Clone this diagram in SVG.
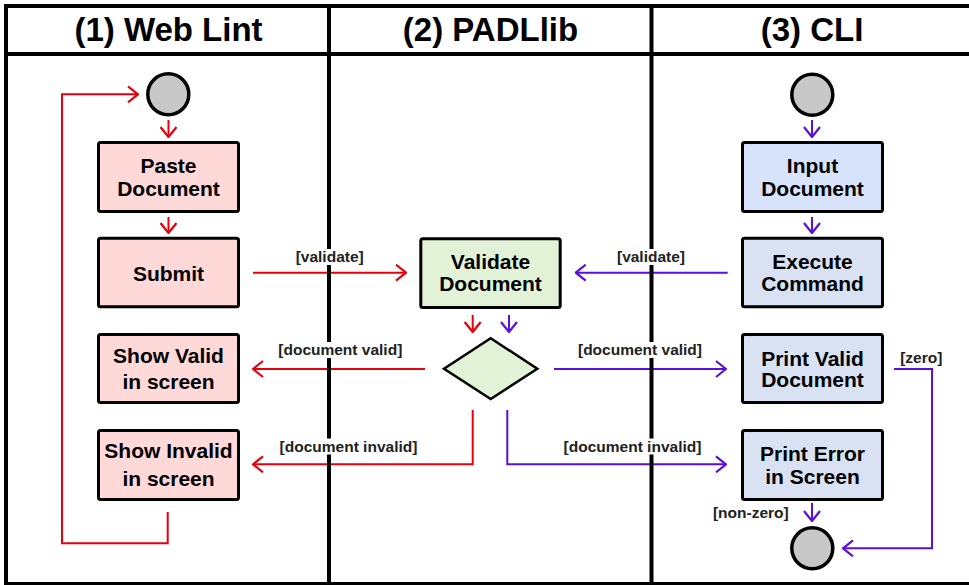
<svg xmlns="http://www.w3.org/2000/svg" width="969" height="585" viewBox="0 0 969 585">
<defs>
<style>
.frame{stroke:#000;stroke-width:4;fill:none}
.hdr{font-family:"Liberation Sans",Arial,sans-serif;font-weight:bold;font-size:33px;fill:#000;text-anchor:middle}
.box{stroke:#000;stroke-width:3}
.red{fill:#ffd8d8}
.grn{fill:#e2f2d7}
.blu{fill:#d7e3fb}
.blu2{fill:#d8e2f2}
.node{font-family:"Liberation Sans",Arial,sans-serif;font-weight:bold;font-size:21px;fill:#000;text-anchor:middle}
.lbl{font-family:"Liberation Sans",Arial,sans-serif;font-weight:bold;font-size:15.5px;fill:#222;text-anchor:middle}
.bg{fill:#fff}
.cr{stroke:#e6000e;stroke-width:2;fill:none;marker-end:url(#ar)}
.cp{stroke:#5a0ee0;stroke-width:2;fill:none;marker-end:url(#ap)}
.circ{fill:#c8c8c8;stroke:#000;stroke-width:3.5}
</style>
<marker id="ar" viewBox="-11 -9 12 18" refX="0" refY="0" markerWidth="12" markerHeight="18" markerUnits="userSpaceOnUse" orient="auto">
<path d="M-10,-8 L0,0 L-10,8" fill="none" stroke="#e6000e" stroke-width="2.2"/>
</marker>
<marker id="ap" viewBox="-11 -9 12 18" refX="0" refY="0" markerWidth="12" markerHeight="18" markerUnits="userSpaceOnUse" orient="auto">
<path d="M-10,-8 L0,0 L-10,8" fill="none" stroke="#5a0ee0" stroke-width="2.2"/>
</marker>
</defs>
<rect width="969" height="585" fill="#fff"/>
<g id="connectors">
<path class="cr" d="M168.5,120 V137"/>
<path class="cr" d="M168.5,217 V233"/>
<path class="cr" d="M253,272.7 H406"/>
<path class="cr" d="M472.7,315 V332"/>
<path class="cp" d="M509,315 V332"/>
<path class="cr" d="M425,369 H253"/>
<path class="cr" d="M472.7,410 V464.3 H253"/>
<path class="cp" d="M554,369 H726"/>
<path class="cp" d="M507.3,410 V464.3 H726"/>
<path class="cp" d="M727.7,272.7 H575.7"/>
<path class="cp" d="M812,120 V137"/>
<path class="cp" d="M812,217 V233"/>
<path class="cp" d="M894,369 H932 V548.3 H843"/>
<path class="cp" d="M812,503 V521"/>
<path class="cr" d="M167.7,512 V543.3 H62 V94.3 H138"/>
</g>
<g id="frame">
<line class="frame" x1="4" y1="6" x2="969" y2="6"/>
<line class="frame" x1="4" y1="54" x2="969" y2="54"/>
<line class="frame" x1="6" y1="4" x2="6" y2="585"/>
<line class="frame" x1="329" y1="4" x2="329" y2="585"/>
<line class="frame" x1="651.5" y1="4" x2="651.5" y2="585"/>
<line class="frame" x1="4" y1="583.5" x2="969" y2="583.5" style="stroke-width:3"/>
<text class="hdr" x="168.5" y="41">(1) Web Lint</text>
<text class="hdr" x="490.5" y="41">(2) PADLlib</text>
<text class="hdr" x="812" y="41">(3) CLI</text>
</g>
<g id="labels">
<rect class="bg" x="294" y="249" width="71" height="16"/>
<text class="lbl" x="329.7" y="262">[validate]</text>
<rect class="bg" x="615" y="249" width="72" height="16"/>
<text class="lbl" x="651" y="262">[validate]</text>
<rect class="bg" x="275" y="342" width="131" height="16"/>
<text class="lbl" x="340.3" y="355">[document valid]</text>
<rect class="bg" x="575" y="342" width="130" height="16"/>
<text class="lbl" x="640" y="355">[document valid]</text>
<rect class="bg" x="277" y="438.5" width="143" height="16"/>
<text class="lbl" x="348.5" y="451.5">[document invalid]</text>
<rect class="bg" x="558" y="438.5" width="149" height="16"/>
<text class="lbl" x="632.5" y="451.5">[document invalid]</text>
<text class="lbl" x="921.3" y="362.5">[zero]</text>
<text class="lbl" x="750.8" y="517.5">[non-zero]</text>
</g>
<g id="start-web"><circle class="circ" cx="168.3" cy="94.3" r="20.5"/></g>
<g id="start-cli"><circle class="circ" cx="812.3" cy="94.7" r="20.5"/></g>
<g id="end-cli"><circle class="circ" cx="812.3" cy="548.3" r="20.5"/></g>
<g id="paste"><rect class="box red" x="98.5" y="142.5" width="140" height="69" rx="2"/><text class="node" x="168.5" y="173.3">Paste</text><text class="node" x="168.5" y="196">Document</text></g>
<g id="submit"><rect class="box red" x="98.5" y="238.2" width="140" height="68.6" rx="2"/><text class="node" x="168.5" y="280.7">Submit</text></g>
<g id="show-valid"><rect class="box red" x="98.5" y="334.5" width="140" height="68" rx="2"/><text class="node" x="168.5" y="362.7">Show Valid</text><text class="node" x="168.5" y="389.3">in screen</text></g>
<g id="show-invalid"><rect class="box red" x="98.5" y="430.5" width="140" height="69" rx="2"/><text class="node" x="168.5" y="458.3">Show Invalid</text><text class="node" x="168.5" y="485.7">in screen</text></g>
<g id="validate"><rect class="box grn" x="420.8" y="238.8" width="139.4" height="68.7" rx="2"/><text class="node" x="490.5" y="269.3">Validate</text><text class="node" x="490.5" y="290.7">Document</text></g>
<g id="decision"><polygon points="490.7,338.3 537.3,368.7 490.7,399 444,368.7" fill="#e2f2d7" stroke="#000" stroke-width="2.5" stroke-linejoin="miter"/></g>
<g id="input"><rect class="box blu" x="742.5" y="142.5" width="140" height="69" rx="2"/><text class="node" x="812.5" y="173.3">Input</text><text class="node" x="812.5" y="196">Document</text></g>
<g id="execute"><rect class="box blu2" x="742.5" y="238.2" width="140" height="68.6" rx="2"/><text class="node" x="812.5" y="269.3">Execute</text><text class="node" x="812.5" y="290.7">Command</text></g>
<g id="print-valid"><rect class="box blu2" x="742.5" y="334.5" width="140" height="68" rx="2"/><text class="node" x="812.5" y="365.7">Print Valid</text><text class="node" x="812.5" y="386.7">Document</text></g>
<g id="print-error"><rect class="box blu2" x="742.5" y="430.5" width="140" height="69" rx="2"/><text class="node" x="812.5" y="461">Print Error</text><text class="node" x="812.5" y="483.5">in Screen</text></g>
</svg>
